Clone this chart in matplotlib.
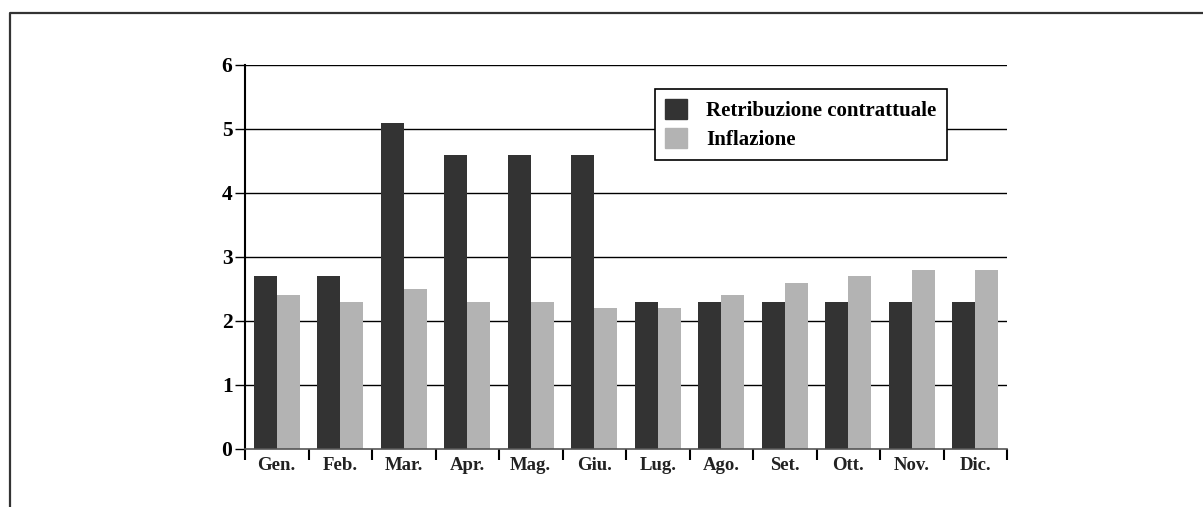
import matplotlib
matplotlib.use('Agg')
import matplotlib.pyplot as plt
import numpy as np
from matplotlib.lines import Line2D
from matplotlib.patches import Patch

mesi = ['Gen.', 'Feb.', 'Mar.', 'Apr.', 'Mag.', 'Giu.', 'Lug.', 'Ago.', 'Set.', 'Ott.', 'Nov.', 'Dic.']
retribuzione = [2.7, 2.7, 5.1, 4.6, 4.6, 4.6, 2.3, 2.3, 2.3, 2.3, 2.3, 2.3]
inflazione = [2.4, 2.3, 2.5, 2.3, 2.3, 2.2, 2.2, 2.4, 2.6, 2.7, 2.8, 2.8]

scuro = '#333333'
chiaro = '#b3b3b3'

plt.rcParams['font.family'] = ['Liberation Serif', 'DejaVu Serif']
plt.rcParams['font.weight'] = 'bold'

W, H = 1203, 507
fig = plt.figure(figsize=(W / 100, H / 100), dpi=100)
ax = fig.add_axes([245 / W, 58 / H, 762 / W, 384 / H])

x = np.arange(len(mesi))
bw = 0.36
for y in range(1, 7):
    ax.axhline(y, color='black', lw=1.0, zorder=1)
ax.bar(x + 0.5 - bw / 2, retribuzione, bw, color=scuro, zorder=2)
ax.bar(x + 0.5 + bw / 2, inflazione, bw, color=chiaro, zorder=2)

ax.set_xlim(0, 12)
ax.set_ylim(0, 6)
for s in ['top', 'right']:
    ax.spines[s].set_visible(False)
ax.spines['left'].set_linewidth(1.5)
ax.spines['bottom'].set_color('#555555')
ax.spines['bottom'].set_linewidth(1.2)

ax.set_yticks(range(0, 7))
ax.tick_params(axis='y', direction='out', length=7, width=1, labelsize=15.5, pad=2)
ax.set_xticks(np.arange(0, 13))
ax.set_xticklabels([])
ax.tick_params(axis='x', which='major', direction='out', length=8, width=1.5)
ax.set_xticks(x + 0.5, minor=True)
ax.set_xticklabels(mesi, minor=True, fontsize=13.5, fontweight='bold', color='#222222')
ax.tick_params(axis='x', which='minor', length=0, pad=6)
for t in ax.get_yticklabels():
    t.set_fontweight('bold')

handles = [Patch(color=scuro, label='Retribuzione contrattuale'),
           Patch(color=chiaro, label='Inflazione')]
leg = fig.legend(handles=handles, loc='upper left', bbox_to_anchor=(655 / W, 1 - 89 / H),
                 frameon=True, fancybox=False, edgecolor='black', framealpha=1,
                 prop={'size': 15, 'weight': 'bold'}, handlelength=1.05, handleheight=1.1,
                 borderpad=0.5, labelspacing=0.3, handletextpad=0.9, borderaxespad=0)
leg.get_frame().set_linewidth(1.2)

# cornice esterna
fig.add_artist(Line2D([10 / W, 10 / W, 1.0], [0, 1 - 13 / H, 1 - 13 / H],
                      transform=fig.transFigure, color='#333333', lw=1.6))

fig.savefig('out.png', dpi=100)
